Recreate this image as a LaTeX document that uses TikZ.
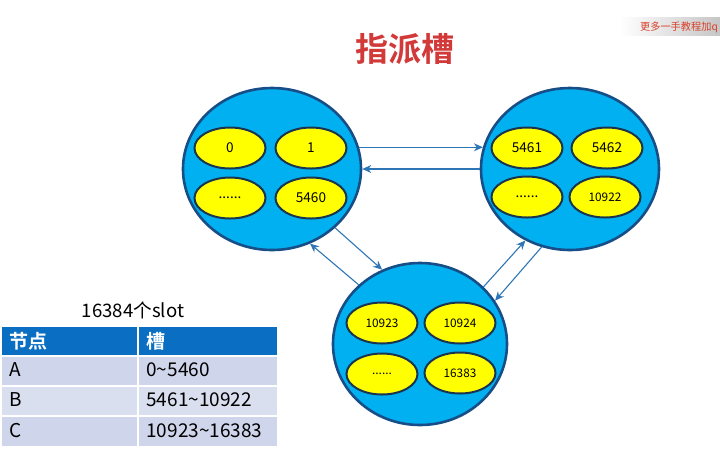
\documentclass[tikz,border=0pt]{standalone}
\usepackage{fontspec}
\setmainfont{Noto Sans CJK SC}[BoldFont={Noto Sans CJK SC Bold}]
\usepackage{tikz}
\usetikzlibrary{shapes.geometric, arrows.meta}
\usepackage{xcolor}
\definecolor{nodeblue}{HTML}{00B0F0}
\definecolor{edgeblue}{HTML}{174E88}
\definecolor{linkblue}{HTML}{2E75B6}
\definecolor{slotyellow}{HTML}{FFFF00}
\definecolor{slotedge}{HTML}{1B3550}
\definecolor{titlered}{HTML}{D23A3A}
\definecolor{markred}{HTML}{D8402A}
\definecolor{headblue}{HTML}{0A6FC2}
\definecolor{rowdark}{HTML}{CFD5EA}
\definecolor{rowlight}{HTML}{DADFEF}

\begin{document}
\begin{tikzpicture}[x=0.5pt, y=-0.5pt,
    server/.style={ellipse, draw=edgeblue, line width=1.3pt, fill=nodeblue,
        minimum width=89pt, minimum height=81pt, inner sep=0pt},
    slot/.style={ellipse, draw=slotedge, line width=1pt, fill=slotyellow,
        minimum width=35.5pt, minimum height=20.5pt, inner sep=0pt,
        font=\fontsize{6.8}{8}\selectfont},
    small/.style={font=\fontsize{5.9}{7}\selectfont},
    link/.style={linkblue, line width=0.55pt, -{Stealth[length=4.5pt,width=4pt]}},
    cell/.style={anchor=west, inner sep=0pt, font=\fontsize{9.5}{11}\selectfont}]
    \useasboundingbox (0,0) rectangle (720,452);

    \shade[left color=white, right color=gray!45] (620,17) rectangle (720,35);
    \node[markred, font=\fontsize{5.1}{6}\selectfont] (mark) at (679,27) {更多一手教程加q};
    \node[titlered, font=\bfseries\fontsize{16.5}{18}\selectfont] (title) at (405,49) {指派槽};

    % three servers
    \node[server] (A) at (272,169) {};
    \node[server] (B) at (570,169) {};
    \node[server, minimum width=87pt] (C) at (420,344) {};

    \node[slot] (a1) at (230,148) {0};
    \node[slot] (a2) at (311,148) {1};
    \node[slot] (a3) at (230,198) {......};
    \node[slot] (a4) at (311,198) {5460};

    \node[slot] (b1) at (527,148) {5461};
    \node[slot] (b2) at (607,148) {5462};
    \node[slot] (b3) at (527,197) {......};
    \node[slot, small] (b4) at (605,197) {10922};

    \node[slot, small] (c1) at (382,323) {10923};
    \node[slot, small] (c2) at (460,323) {10924};
    \node[slot, small] (c3) at (382,374) {......};
    \node[slot, small] (c4) at (460,373) {16383};

    \draw[link] (A.14) -- (B.166);
    \draw[link] (B.180) -- (A.0);
    \draw[link] (A.-43) -- (C.117);
    \draw[link] (C.136) -- (A.-63);
    \draw[link] (C.42) -- (B.238);
    \draw[link] (B.250) -- (C.30);

    % slot table
    \node[font=\fontsize{9.3}{11}\selectfont] (total) at (133,310) {16384个slot};
    \fill[headblue] (2,327) rectangle (277,355);
    \fill[rowdark] (2,356.5) rectangle (277,385);
    \fill[rowlight] (2,386.5) rectangle (277,415);
    \fill[rowdark] (2,416.5) rectangle (277,446);
    \draw[white, line width=0.75pt] (138,327) -- (138,446);
    \node[cell, white, font=\bfseries\fontsize{9.5}{11}\selectfont] (h1) at (9,341) {节点};
    \node[cell, white, font=\bfseries\fontsize{9.5}{11}\selectfont] (h2) at (146,341) {槽};
    \node[cell] (r1) at (9,370) {A};
    \node[cell] (s1) at (146,370) {0\textasciitilde5460};
    \node[cell] (r2) at (9,400) {B};
    \node[cell] (s2) at (146,400) {5461\textasciitilde10922};
    \node[cell] (r3) at (9,431) {C};
    \node[cell] (s3) at (146,431) {10923\textasciitilde16383};
\end{tikzpicture}
\end{document}
